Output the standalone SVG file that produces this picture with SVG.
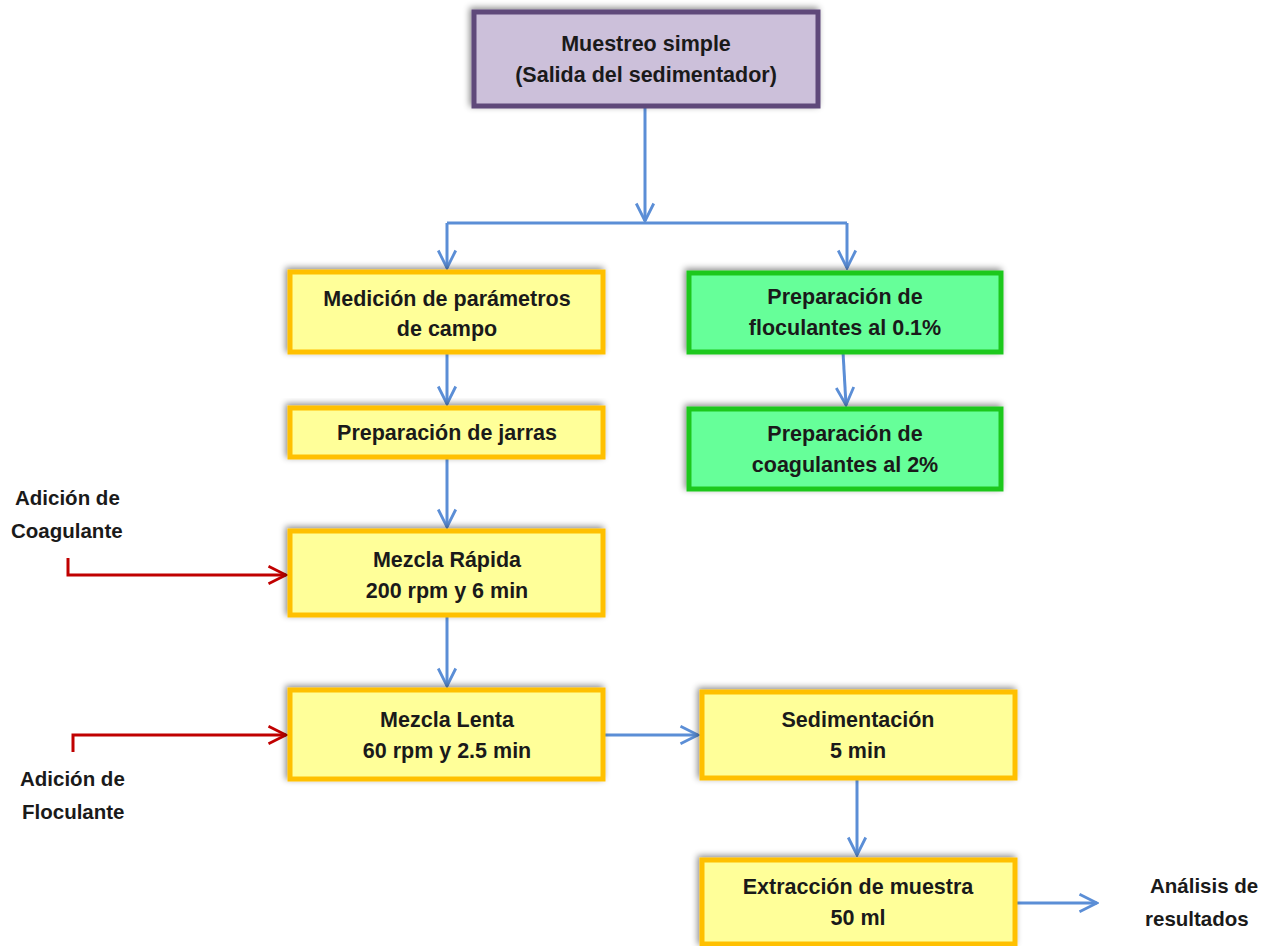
<svg xmlns="http://www.w3.org/2000/svg" width="1272" height="946" viewBox="0 0 1272 946">
  <style>
    .box-y { fill: #FFFF99; stroke: #FFC000; stroke-width: 5; filter: url(#shadow); }
    .box-g { fill: #66FF99; stroke: #1EC81E; stroke-width: 5; filter: url(#shadow); }
    .box-p { fill: #CCC0DA; stroke: #5F497A; stroke-width: 5; filter: url(#shadow); }
    text { font-family: "Liberation Sans", Arial, sans-serif; font-weight: bold; font-size: 21.5px; fill: #1a1a1a; text-anchor: middle; }
    .side { text-anchor: start; font-size: 20.5px; }
    .blue { fill: none; stroke: #5B8ED6; stroke-width: 3; marker-end: url(#arrowBlue); }
    .blue-plain { fill: none; stroke: #5B8ED6; stroke-width: 3; }
    .red { fill: none; stroke: #C00000; stroke-width: 3; marker-end: url(#arrowRed); }
  </style>
  <defs>
    <filter id="shadow" x="-10%" y="-20%" width="120%" height="140%">
      <feDropShadow dx="-2" dy="-2" stdDeviation="3" flood-color="#000" flood-opacity="0.45"/>
    </filter>
    <marker id="arrowBlue" viewBox="0 0 12 12" refX="11" refY="6" markerWidth="7" markerHeight="7" markerUnits="strokeWidth" orient="auto">
      <path d="M1,1 L11,6 L1,11" fill="none" stroke="#5B8ED6" stroke-width="1.6"/>
    </marker>
    <marker id="arrowRed" viewBox="0 0 12 12" refX="11" refY="6" markerWidth="7" markerHeight="7" markerUnits="strokeWidth" orient="auto">
      <path d="M1,1 L11,6 L1,11" fill="none" stroke="#C00000" stroke-width="1.6"/>
    </marker>
  </defs>
  <rect width="1272" height="946" fill="#ffffff"/>

  <g id="connectors">
    <path class="blue" d="M645,106 V221"/>
    <path class="blue-plain" d="M447,223 H847"/>
    <path class="blue" d="M447,223 V268"/>
    <path class="blue" d="M847,223 V268"/>
    <path class="blue" d="M447,352 V404"/>
    <path class="blue" d="M447,457 V527"/>
    <path class="blue" d="M447,615 V686"/>
    <path class="blue" d="M843,352 L846,405"/>
    <path class="blue" d="M603,735 H698"/>
    <path class="blue" d="M857,778 V855"/>
    <path class="blue" d="M1015,903 H1097"/>
    <path class="red" d="M68,558 V575 H286"/>
    <path class="red" d="M73,752 V735 H286"/>
  </g>

  <g id="muestreo">
    <rect class="box-p" x="474" y="12" width="344" height="94"/>
    <text x="646" y="51">Muestreo simple</text>
    <text x="646" y="82">(Salida del sedimentador)</text>
  </g>
  <g id="medicion">
    <rect class="box-y" x="290" y="272" width="313" height="80"/>
    <text x="447" y="306">Medición de parámetros</text>
    <text x="447" y="336">de campo</text>
  </g>
  <g id="jarras">
    <rect class="box-y" x="290" y="408" width="313" height="49"/>
    <text x="447" y="440">Preparación de jarras</text>
  </g>
  <g id="mezcla-rapida">
    <rect class="box-y" x="290" y="531" width="313" height="84"/>
    <text x="447" y="567">Mezcla Rápida</text>
    <text x="447" y="598">200 rpm y 6 min</text>
  </g>
  <g id="mezcla-lenta">
    <rect class="box-y" x="290" y="690" width="313" height="89"/>
    <text x="447" y="727">Mezcla Lenta</text>
    <text x="447" y="758">60 rpm y 2.5 min</text>
  </g>
  <g id="sedimentacion">
    <rect class="box-y" x="702" y="692" width="313" height="86"/>
    <text x="858" y="727">Sedimentación</text>
    <text x="858" y="758">5 min</text>
  </g>
  <g id="extraccion">
    <rect class="box-y" x="702" y="860" width="313" height="84"/>
    <text x="858" y="894">Extracción de muestra</text>
    <text x="858" y="925">50 ml</text>
  </g>
  <g id="floculantes">
    <rect class="box-g" x="689" y="273" width="312" height="79"/>
    <text x="845" y="304">Preparación de</text>
    <text x="845" y="335">floculantes al 0.1%</text>
  </g>
  <g id="coagulantes">
    <rect class="box-g" x="689" y="409" width="312" height="80"/>
    <text x="845" y="441">Preparación de</text>
    <text x="845" y="472">coagulantes al 2%</text>
  </g>

  <g id="adicion-coagulante">
    <text class="side" x="15" y="505">Adición de</text>
    <text class="side" x="11" y="538">Coagulante</text>
  </g>
  <g id="adicion-floculante">
    <text class="side" x="20" y="786">Adición de</text>
    <text class="side" x="22" y="819">Floculante</text>
  </g>
  <g id="analisis">
    <text class="side" x="1150" y="893">Análisis de</text>
    <text class="side" x="1145" y="926">resultados</text>
  </g>
</svg>
